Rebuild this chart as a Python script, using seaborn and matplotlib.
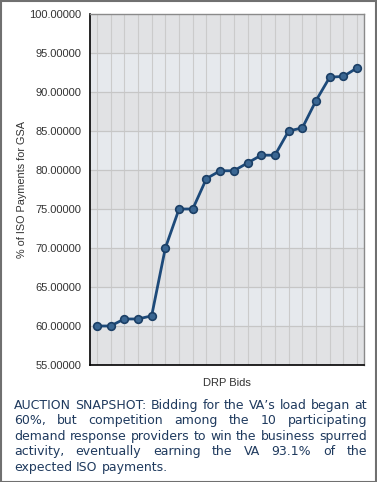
import numpy as np
import pandas as pd
import matplotlib
matplotlib.use("Agg")
import matplotlib.pyplot as plt
import seaborn as sns
from matplotlib.patches import Rectangle

bids = list(range(1, 21))
pct_iso = [60.0, 60.0, 60.9, 60.9, 61.3, 70.0, 75.0, 75.0, 78.9, 79.9,
           79.9, 80.9, 81.9, 81.9, 85.0, 85.4, 88.9, 91.9, 92.0, 93.1]
y_ticks = [55, 60, 65, 70, 75, 80, 85, 90, 95, 100]

caption_lines = [
    "AUCTION SNAPSHOT: Bidding for the VA\u2019s load began at",
    "60%, but competition among the 10 participating",
    "demand response providers to win the business spurred",
    "activity, eventually earning the VA 93.1% of the",
    "expected ISO payments.",
]

df = pd.DataFrame({"bid": bids, "pct": pct_iso})

sns.set_style("white")
plt.rcParams["font.family"] = ["Liberation Sans", "DejaVu Sans"]

W, H = 377, 482
fig = plt.figure(figsize=(W / 100, H / 100), dpi=100)
fig.patch.set_facecolor("white")
fig.add_artist(Rectangle((0.5 / W, 0.5 / H), 1 - 1.5 / W, 1 - 1.5 / H,
                         transform=fig.transFigure, fill=False,
                         edgecolor="#707070", lw=1.5))

ax = fig.add_axes([90 / W, 1 - 365 / H, 274 / W, 351 / H])

# banded background
for i, lo in enumerate(y_ticks[:-1]):
    ax.axhspan(lo, lo + 5, color="#e1e2e4" if i % 2 == 0 else "#e6e9ed",
               zorder=0, lw=0)
for b in bids:
    ax.axvline(b, color="#cbcbcb", lw=0.8, zorder=1)
for yv in y_ticks[1:-1]:
    ax.axhline(yv, color="#c6c6c6", lw=0.9, zorder=1)

sns.lineplot(data=df, x="bid", y="pct", ax=ax, color="#1d4a7a", lw=2,
             marker="o", markersize=5.5, markerfacecolor="#3a6692",
             markeredgecolor="#1b3f66", markeredgewidth=1.2, zorder=3)

ax.set_xlim(0.5, 20.5)
ax.set_ylim(55, 100)
ax.set_yticks(y_ticks)
ax.set_yticklabels([f"{v:.5f}" for v in y_ticks], fontsize=8, color="#333333")
ax.set_xticks(bids)
ax.set_xticklabels([])
ax.tick_params(axis="both", length=4, width=1, color="black", direction="out")
ax.tick_params(axis="y", pad=2)
ax.tick_params(axis="x", length=5)

for s in ["left", "bottom"]:
    ax.spines[s].set_color("black")
    ax.spines[s].set_linewidth(1.2)
for s in ["top", "right"]:
    ax.spines[s].set_color("#8a8a8a")
    ax.spines[s].set_linewidth(1.0)

ax.set_xlabel("DRP Bids", fontsize=8, color="#333333", labelpad=0.5)
ax.set_ylabel("% of ISO Payments for GSA", fontsize=7.8, color="#333333",
              labelpad=2)

# justified caption
fig.canvas.draw()
renderer = fig.canvas.get_renderer()
left_px, right_px = 14, 367
cap_color = "#1f3a5e"
cap_font = "DejaVu Sans"


def text_width(s, size):
    t = fig.text(0, 0, s, fontsize=size, family=cap_font)
    w = t.get_window_extent(renderer).width
    t.remove()
    return w


# pick a size so the fullest line just fills the text width
size = 9.0
widest = max(text_width(l, size) for l in caption_lines[:-1])
size = size * (right_px - left_px) / widest

for k, line in enumerate(caption_lines):
    base_px = 409 + k * 15.4
    words = line.split(" ")
    widths = [text_width(w, size) for w in words]
    natural = text_width(line, size)
    if k < len(caption_lines) - 1:
        gap = (right_px - left_px - sum(widths)) / (len(words) - 1)
    else:
        gap = (natural - sum(widths)) / (len(words) - 1)
    x = left_px
    for w, wd in zip(words, widths):
        fig.text(x / W, 1 - base_px / H, w, fontsize=size, family=cap_font,
                 color=cap_color, va="baseline", ha="left")
        x += wd + gap

fig.savefig("out.png", dpi=100)
